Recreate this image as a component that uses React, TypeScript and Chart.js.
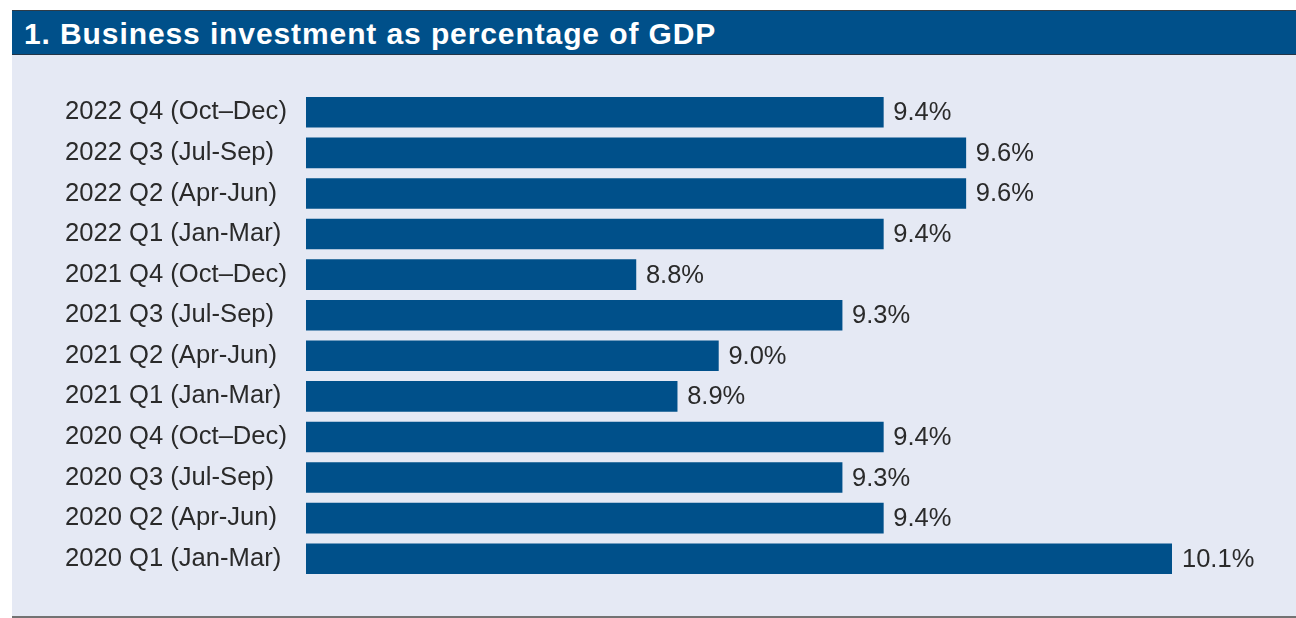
import React, { useEffect, useRef } from "react";
import { Chart, registerables } from "chart.js";

Chart.register(...registerables);

const TITLE = "1. Business investment as percentage of GDP";

const categories = [
  "2022 Q4 (Oct–Dec)",
  "2022 Q3 (Jul-Sep)",
  "2022 Q2 (Apr-Jun)",
  "2022 Q1 (Jan-Mar)",
  "2021 Q4 (Oct–Dec)",
  "2021 Q3 (Jul-Sep)",
  "2021 Q2 (Apr-Jun)",
  "2021 Q1 (Jan-Mar)",
  "2020 Q4 (Oct–Dec)",
  "2020 Q3 (Jul-Sep)",
  "2020 Q2 (Apr-Jun)",
  "2020 Q1 (Jan-Mar)",
];

const values = [9.4, 9.6, 9.6, 9.4, 8.8, 9.3, 9.0, 8.9, 9.4, 9.3, 9.4, 10.1];

const AXIS_MIN = 8;
const AXIS_MAX = 10.1;

const BAR_COLOR = "#00508a";
const PANEL_BG = "#e5e9f4";
const TEXT_COLOR = "#2a2a2a";
const FONT_FAMILY = "'Liberation Sans', Arial, Helvetica, sans-serif";

const valueLabels = {
  id: "valueLabels",
  afterDatasetsDraw(chart: any) {
    const ctx = chart.ctx;
    const meta = chart.getDatasetMeta(0);
    ctx.save();
    ctx.font = `25.5px ${FONT_FAMILY}`;
    ctx.fillStyle = TEXT_COLOR;
    ctx.textAlign = "left";
    ctx.textBaseline = "middle";
    meta.data.forEach((bar: any, i: number) => {
      const v = chart.data.datasets[0].data[i] as number;
      ctx.fillText(v.toFixed(1) + "%", bar.x + 10, bar.y + 1);
    });
    ctx.restore();
  },
};

export default function App() {
  const canvasRef = useRef<HTMLCanvasElement | null>(null);

  useEffect(() => {
    document.body.style.margin = "0";
    const canvas = canvasRef.current;
    if (!canvas) return;
    const chart = new Chart(canvas, {
      type: "bar",
      data: {
        labels: categories,
        datasets: [
          {
            data: values,
            backgroundColor: BAR_COLOR,
            borderWidth: 0,
            barThickness: 30,
            base: AXIS_MIN,
          },
        ],
      },
      options: {
        indexAxis: "y",
        animation: false,
        responsive: false,
        maintainAspectRatio: false,
        layout: {
          padding: { left: 53, right: 124, top: 37, bottom: 37 },
        },
        plugins: {
          legend: { display: false },
          tooltip: { enabled: false },
          title: { display: false },
        },
        scales: {
          x: {
            display: false,
            min: AXIS_MIN,
            max: AXIS_MAX,
          },
          y: {
            grid: { display: false, drawTicks: false },
            border: { display: false },
            ticks: {
              crossAlign: "far",
              color: TEXT_COLOR,
              font: { family: FONT_FAMILY, size: 25.6 },
              padding: 0,
            },
            afterFit(scale: any) {
              scale.width = 241;
            },
          },
        },
      },
      plugins: [valueLabels],
    });
    return () => chart.destroy();
  }, []);

  return (
    <div
      style={{
        position: "fixed",
        left: 0,
        top: 0,
        width: 1296,
        height: 618,
        background: "#ffffff",
        overflow: "hidden",
      }}
    >
      <div
        style={{
          position: "absolute",
          left: 12,
          top: 10,
          width: 1284,
          height: 43,
          background: BAR_COLOR,
          borderTop: "1px solid #2e3b47",
          borderBottom: "1px solid #243546",
          color: "#ffffff",
          fontFamily: FONT_FAMILY,
          fontWeight: "bold",
          fontSize: 30,
          letterSpacing: "0.9px",
          lineHeight: "45px",
          paddingLeft: 12,
          boxSizing: "content-box",
          whiteSpace: "nowrap",
        }}
      >
        {TITLE}
      </div>
      <div
        style={{
          position: "absolute",
          left: 12,
          top: 55,
          width: 1284,
          height: 561,
          background: PANEL_BG,
          borderBottom: "2px solid #737373",
        }}
      >
        <canvas
          ref={canvasRef}
          width={1284}
          height={561}
          style={{ display: "block", width: 1284, height: 561 }}
        />
      </div>
    </div>
  );
}
